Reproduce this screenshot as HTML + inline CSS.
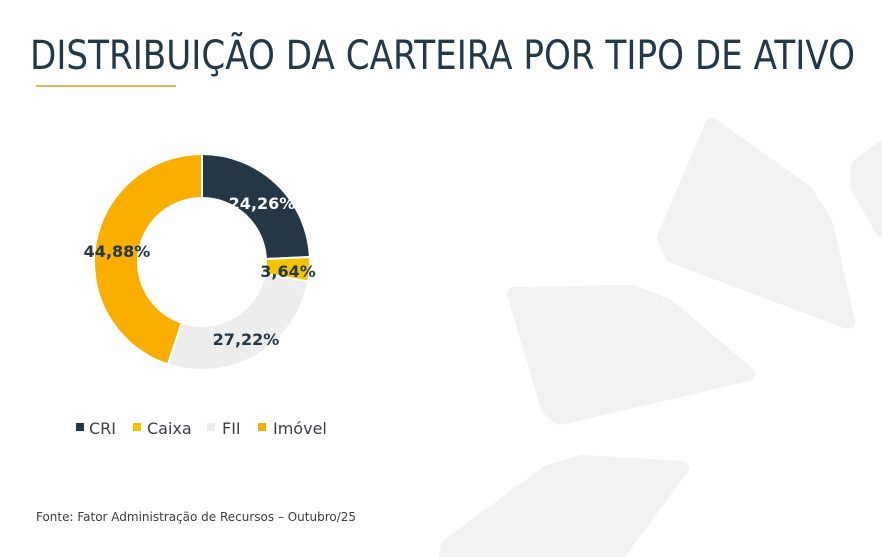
<!DOCTYPE html>
<html><head><meta charset="utf-8"><style>
html,body{margin:0;padding:0;background:#fff;}
svg{display:block;}
</style></head><body>
<svg width="882" height="557" viewBox="0 0 882 557" xmlns="http://www.w3.org/2000/svg">
<g fill="#f2f2f2" stroke="#f2f2f2" stroke-width="14" stroke-linejoin="round">
<polygon points="712,125 806,192 826,224 848,322 672,256 664,238"/>
<polygon points="514,294 632,292 668,306 748,374 560,418 548,408"/>
<polygon points="582,462 682,468 616,557 446,557 448,546 548,472"/>
<polygon points="882,148 858,166 857,186 882,230"/>
</g>
<text x="30" y="69" font-family="DejaVu Sans, Liberation Sans, sans-serif" font-size="40" fill="#22384b" textLength="825" lengthAdjust="spacingAndGlyphs">DISTRIBUIÇÃO DA CARTEIRA POR TIPO DE ATIVO</text>
<rect x="36" y="85" width="140" height="2" fill="#e8b55a"/>
<g stroke="#fff" stroke-width="2" stroke-linejoin="round">
<path d="M202,154 A108,108 0 0 1 309.88,256.99 L265.93,259.03 A64,64 0 0 0 202,198 Z" fill="#243746"/>
<path d="M309.88,256.99 A108,108 0 0 1 308.21,281.57 L264.94,273.60 A64,64 0 0 0 265.93,259.03 Z" fill="#f5c400"/>
<path d="M308.21,281.57 A108,108 0 0 1 167.85,364.46 L181.77,322.72 A64,64 0 0 0 264.94,273.60 Z" fill="#ededed"/>
<path d="M167.85,364.46 A108,108 0 0 1 202,154 L202,198 A64,64 0 0 0 181.77,322.72 Z" fill="#f9ae00"/>
</g>
<g font-family="DejaVu Sans, Liberation Sans, sans-serif" font-weight="bold" font-size="16" text-anchor="middle">
<text x="262" y="209" fill="#fff">24,26%</text>
<text x="288" y="277" fill="#243746">3,64%</text>
<text x="246" y="345" fill="#243746">27,22%</text>
<text x="117" y="257" fill="#243746">44,88%</text>
</g>
<g font-family="DejaVu Sans, Liberation Sans, sans-serif" font-size="16" fill="#3a3f44">
<rect x="76" y="423" width="8" height="8" fill="#243746"/>
<text x="89" y="434">CRI</text>
<rect x="133" y="423" width="8" height="8" fill="#f5c400"/>
<text x="147" y="434">Caixa</text>
<rect x="207" y="423" width="8" height="8" fill="#ededed"/>
<text x="222" y="434">FII</text>
<rect x="258" y="423" width="8" height="8" fill="#f9ae00"/>
<text x="273" y="434">Imóvel</text>
</g>
<text x="36" y="521" font-family="DejaVu Sans, Liberation Sans, sans-serif" font-size="12.5" fill="#3a3f44" textLength="320" lengthAdjust="spacingAndGlyphs">Fonte: Fator Administração de Recursos – Outubro/25</text>
</svg>
</body></html>
